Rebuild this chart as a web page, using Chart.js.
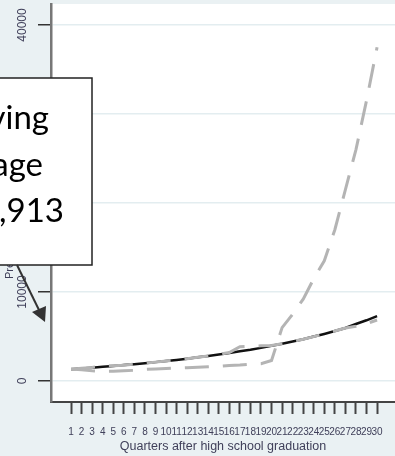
<!DOCTYPE html>
<html><head><meta charset="utf-8">
<script src="https://cdn.jsdelivr.net/npm/chart.js@4/dist/chart.umd.min.js"></script>
<style>html,body{margin:0;padding:0;background:#eaf1f3;overflow:hidden}</style>
</head><body>
<canvas id="c" width="395" height="456"></canvas>
<script>
// ---- data ----
const quarters = [1,2,3,4,5,6,7,8,9,10,11,12,13,14,15,16,17,18,19,20,21,22,23,24,25,26,27,28,29,30];
const yTickValues = [0,10000,20000,30000,40000];
const fittedEarnings = [1330,1410,1500,1590,1690,1790,1890,2000,2120,2240,2370,2510,2660,2820,2980,3150,3330,3500,3720,3950,4190,4440,4700,4990,5290,5610,5950,6400,6820,7280];
const jumpSeries = [1350,1250,1150,1100,1100,1150,1200,1300,1350,1400,1450,1500,1550,1600,1650,1750,1800,1900,1950,2300,6000,7500,9200,11500,13500,17000,21500,26000,31500,37500];
const closeSeries = [1330,1420,1520,1700,1720,1760,1900,2000,2120,2240,2370,2510,2660,2820,2980,3200,3850,3900,3950,4000,4190,4440,4700,4990,5290,5610,5950,6150,6450,6850];
const xTitle = 'Quarters after high school graduation';
const yTitle = 'Predicted quarterly earnings';
const calloutLines = ['Leaving', 'average', '$12,913'];

const toXY = arr => quarters.map((q,i)=>({x:q, y:arr[i]}));
const TXT = '#40405a';

const frame = {
  id:'frame',
  beforeDraw(chart){
    const {ctx, chartArea:a} = chart;
    ctx.save();
    ctx.fillStyle = '#eaf1f3';
    ctx.fillRect(0,0,chart.width,chart.height);
    ctx.fillStyle = '#ffffff';
    ctx.fillRect(a.left,a.top,a.right-a.left,a.bottom-a.top);
    ctx.restore();
  },
  afterDraw(chart){
    const {ctx} = chart;
    const ys = chart.scales.y;
    ctx.save();
    // y tick labels (rotated)
    ctx.fillStyle = TXT;
    ctx.font = '12px "Liberation Sans", Arial, sans-serif';
    ctx.textAlign = 'center';
    ctx.textBaseline = 'middle';
    yTickValues.forEach(v=>{
      const py = ys.getPixelForValue(v);
      ctx.save(); ctx.translate(23, py); ctx.rotate(-Math.PI/2);
      ctx.fillText(String(v),0,0); ctx.restore();
    });
    // y title
    ctx.save(); ctx.translate(10, 279); ctx.rotate(-Math.PI/2);
    ctx.font = '11px "Liberation Sans", Arial, sans-serif';
    ctx.textAlign = 'left';
    ctx.fillText(yTitle,0,0); ctx.restore();

    // callout box
    ctx.fillStyle = '#ffffff';
    ctx.fillRect(-5,78,97,187);
    ctx.strokeStyle = '#222';
    ctx.lineWidth = 1.5;
    ctx.strokeRect(-5,78,97,187);
    ctx.fillStyle = '#000';
    ctx.font = '33px Lato, "Open Sans", sans-serif';
    ctx.textAlign = 'right';
    ctx.textBaseline = 'alphabetic';
    ctx.fillText(calloutLines[0], 49, 129);
    ctx.fillText(calloutLines[1], 43, 176);
    ctx.fillText(calloutLines[2], 64, 222);

    // arrow
    ctx.strokeStyle = '#333';
    ctx.fillStyle = '#333';
    ctx.lineWidth = 2;
    ctx.beginPath(); ctx.moveTo(17,265); ctx.lineTo(39,310); ctx.stroke();
    ctx.beginPath(); ctx.moveTo(45,322); ctx.lineTo(46,306); ctx.lineTo(32,312); ctx.closePath(); ctx.fill();
    ctx.restore();
  }
};

new Chart(document.getElementById('c'), {
  type:'line',
  data:{datasets:[
    {data:toXY(fittedEarnings), borderColor:'#111', borderWidth:2.5, pointRadius:0, fill:false, order:3},
    {data:toXY(jumpSeries), borderColor:'#b4b4b4', borderWidth:3, borderDash:[24,14], pointRadius:0, fill:false, order:2},
    {data:toXY(closeSeries), borderColor:'#b4b4b4', borderWidth:3, borderDash:[24,14], pointRadius:0, fill:false, order:1}
  ]},
  options:{
    responsive:false, animation:false, devicePixelRatio:1,
    layout:{padding:{top:4,left:0,right:0,bottom:0}},
    plugins:{legend:{display:false}, tooltip:{enabled:false}},
    scales:{
      x:{type:'linear', min:-0.9, max:31.7,
        afterBuildTicks:s=>{s.ticks = quarters.map(v=>({value:v}));},
        afterFit:s=>{s.height = 54;},
        ticks:{autoSkip:false, maxRotation:0, minRotation:0, padding:12, color:TXT,
          font:{family:'"Liberation Sans", Arial, sans-serif', size:10}, callback:v=>String(v)},
        grid:{drawOnChartArea:false, drawTicks:true, tickLength:12, tickWidth:2, tickColor:'#444'},
        border:{display:true, color:'#444', width:2},
        title:{display:true, text:xTitle, color:TXT, padding:{top:0,bottom:2},
          font:{family:'"Liberation Sans", Arial, sans-serif', size:12.5}}
      },
      y:{min:-2360, max:42360,
        afterBuildTicks:s=>{s.ticks = yTickValues.map(v=>({value:v}));},
        afterFit:s=>{s.width = 51;},
        ticks:{display:false},
        grid:{color:'#e3edf0', lineWidth:1.5, drawTicks:true, tickLength:13, tickWidth:1.5, tickColor:'#333'},
        border:{display:true, color:'#777', width:2.5}
      }
    }
  },
  plugins:[frame]
});
</script>
</body></html>
